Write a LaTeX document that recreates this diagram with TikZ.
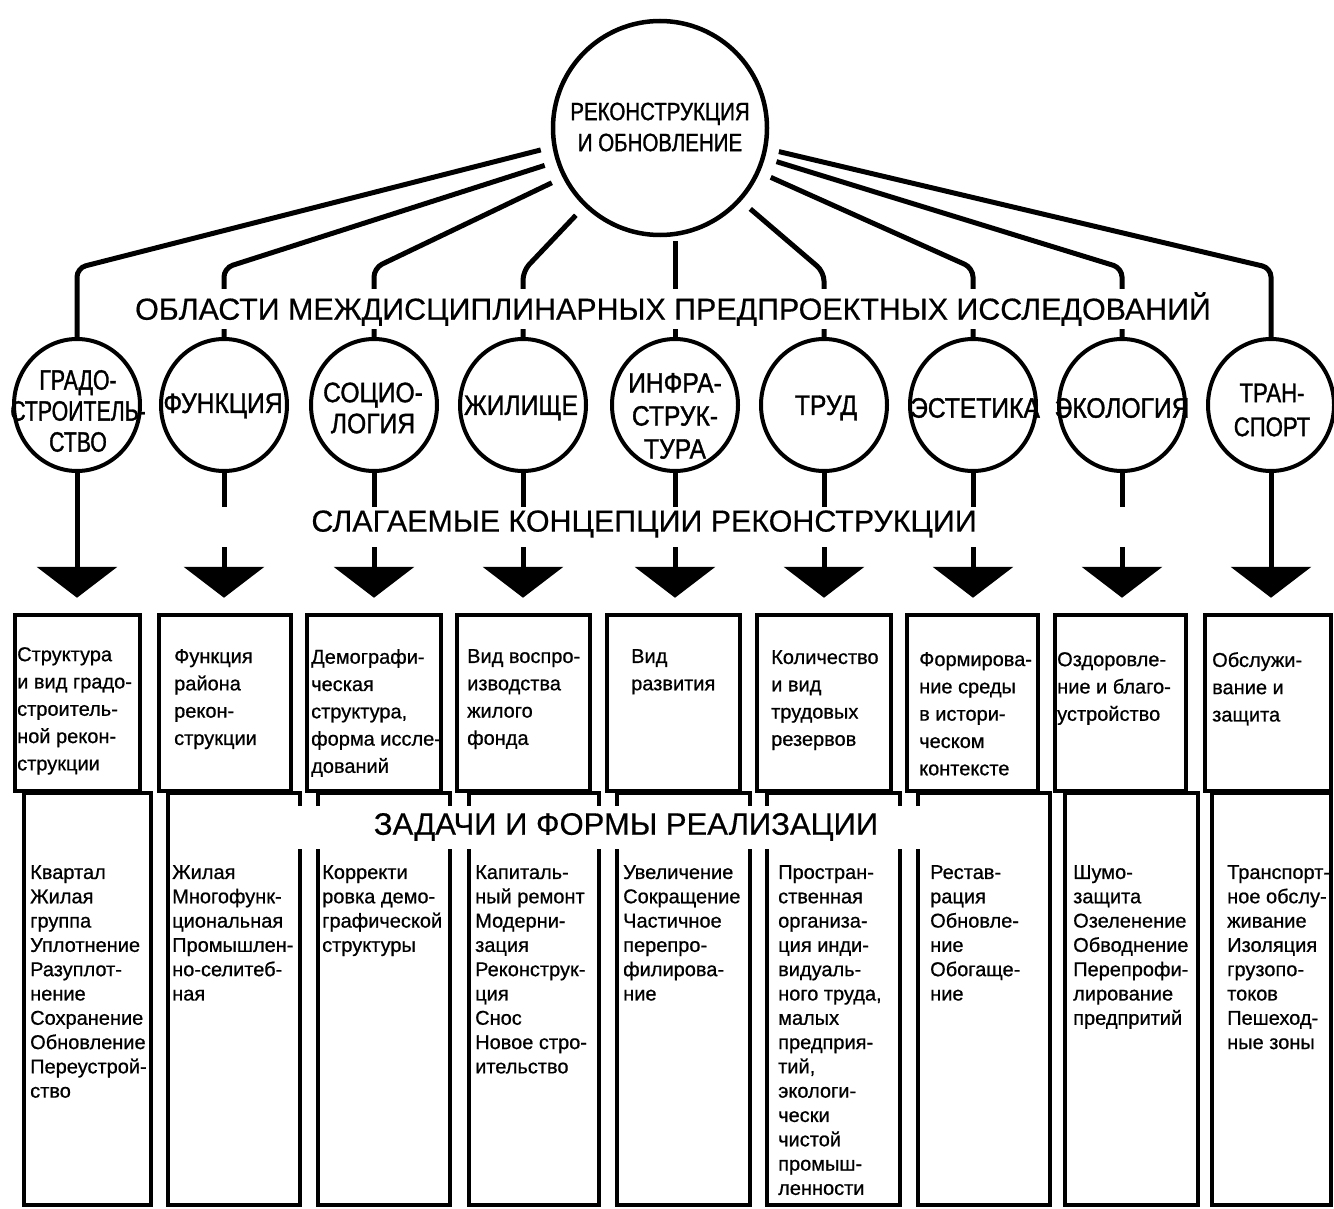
\documentclass[tikz,border=0pt]{standalone}
\usepackage{fontspec}
\setmainfont{Liberation Sans}
\newfontfamily\condf[FakeStretch=0.82,FakeBold=1.2]{Liberation Sans}
\newfontfamily\condm[FakeStretch=0.88,FakeBold=1.2]{Liberation Sans}
\newfontfamily\condn[FakeStretch=0.76,FakeBold=1.2]{Liberation Sans}
\newfontfamily\boxf[FakeBold=0.7]{Liberation Sans}
\newfontfamily\bandf[FakeBold=0.5]{Liberation Sans}
\usetikzlibrary{shapes.geometric,arrows.meta}
\begin{document}
\begin{tikzpicture}[x=1pt,y=-1pt,
  bigc/.style={circle, draw, line width=4.5pt, minimum size=214pt, inner sep=0pt},
  smallc/.style={ellipse, draw, line width=4pt, minimum width=126pt, minimum height=132pt, inner sep=0pt},
  ctext/.style={font=\condm\fontsize{28}{31}\selectfont, align=center, inner sep=0pt},
  bigtext/.style={font=\condf\fontsize{25}{31}\selectfont, align=center, inner sep=0pt},
  spoke/.style={line width=5pt, rounded corners=9pt, shorten <=12pt},
  stem/.style={line width=5pt, -{Triangle[width=80pt,length=31pt]}, shorten >=15pt},
  boxt/.style={draw, line width=4.5pt, minimum height=176pt, inner sep=0pt},
  boxb/.style={draw, line width=4.5pt, minimum height=412pt, inner sep=0pt},
  toptext/.style={anchor=north west, align=left, inner sep=0pt, font=\boxf\fontsize{20}{27.3}\selectfont},
  bottext/.style={anchor=north west, align=left, inner sep=0pt, font=\boxf\fontsize{20}{24.3}\selectfont},
  band/.style={font=\bandf\fontsize{30.4}{36}\selectfont, inner sep=0pt}
]
\fill[white] (0,0) rectangle (1334,1209);
\useasboundingbox (0,0) rectangle (1334,1209);

% central circle
\node[bigc] (top) at (660,128) {};
\node[bigtext] (toptxt) at (660,127) {РЕКОНСТРУКЦИЯ\\И ОБНОВЛЕНИЕ};

% small circles
\node[smallc] (c1) at (77,405) {};
\node[smallc] (c2) at (224,405) {};
\node[smallc] (c3) at (374,405) {};
\node[smallc] (c4) at (523,405) {};
\node[smallc] (c5) at (675,405) {};
\node[smallc] (c6) at (824,405) {};
\node[smallc] (c7) at (973,405) {};
\node[smallc] (c8) at (1122,405) {};
\node[smallc] (c9) at (1271,405) {};

\node[ctext, font=\condn\fontsize{28}{31}\selectfont] (l1) at (78,411) {ГРАДО-\\СТРОИТЕЛЬ-\\СТВО};
\node[ctext] (l2) at (223,406) {ФУНКЦИЯ};
\node[ctext] (l3) at (373,408) {СОЦИО-\\ЛОГИЯ};
\node[ctext] (l4) at (521,408) {ЖИЛИЩЕ};
\node[ctext, font=\condm\fontsize{28}{33}\selectfont] (l5) at (675,416) {ИНФРА-\\СТРУК-\\ТУРА};
\node[ctext] (l6) at (826,408) {ТРУД};
\node[ctext] (l7) at (975,408) {ЭСТЕТИКА};
\node[ctext] (l8) at (1122,408) {ЭКОЛОГИЯ};
\node[ctext, font=\condf\fontsize{27}{34}\selectfont] (l9) at (1272,410) {ТРАН-\\СПОРТ};

% spokes
\draw[spoke] (top.190) -- (c1.north |- 0,268) -- (c1.north);
\draw[spoke] (top.198) -- (c2.north |- 0,268) -- (c2.north);
\draw[spoke] (top.207) -- (c3.north |- 0,268) -- (c3.north);
\draw[spoke] (top.226) -- (c4.north |- 0,271) -- (c4.north);
\draw[line width=5pt, shorten <=4pt] (c5.north |- top.south) -- (c5.north);
\draw[spoke] (top.318) -- (c6.north |- 0,272) -- (c6.north);
\draw[spoke] (top.336) -- (c7.north |- 0,268) -- (c7.north);
\draw[spoke] (top.344) -- (c8.north |- 0,268) -- (c8.north);
\draw[spoke] (top.349) -- (c9.north |- 0,268) -- (c9.north);

% top boxes
\node[boxt, minimum width=125pt] (t1) at (77.5,703) {};
\node[boxt, minimum width=132pt] (t2) at (225,703) {};
\node[boxt, minimum width=134pt] (t3) at (374,703) {};
\node[boxt, minimum width=133pt] (t4) at (523.5,703) {};
\node[boxt, minimum width=133pt] (t5) at (673.5,703) {};
\node[boxt, minimum width=134pt] (t6) at (824,703) {};
\node[boxt, minimum width=131pt] (t7) at (972.5,703) {};
\node[boxt, minimum width=131pt] (t8) at (1120.5,703) {};
\node[boxt, minimum width=126pt] (t9) at (1268,703) {};

% stems with arrowheads
\draw[stem] (c1.south) -- (c1.south |- t1.north);
\draw[stem] (c2.south) -- (c2.south |- t2.north);
\draw[stem] (c3.south) -- (c3.south |- t3.north);
\draw[stem] (c4.south) -- (c4.south |- t4.north);
\draw[stem] (c5.south) -- (c5.south |- t5.north);
\draw[stem] (c6.south) -- (c6.south |- t6.north);
\draw[stem] (c7.south) -- (c7.south |- t7.north);
\draw[stem] (c8.south) -- (c8.south |- t8.north);
\draw[stem] (c9.south) -- (c9.south |- t9.north);

% bottom boxes
\node[boxb, minimum width=127pt] (b1) at (87.5,999) {};
\node[boxb, minimum width=132pt] (b2) at (234,999) {};
\node[boxb, minimum width=132pt] (b3) at (384,999) {};
\node[boxb, minimum width=130pt] (b4) at (534,999) {};
\node[boxb, minimum width=133pt] (b5) at (683.5,999) {};
\node[boxb, minimum width=133pt] (b6) at (833.5,999) {};
\node[boxb, minimum width=132pt] (b7) at (984,999) {};
\node[boxb, minimum width=133pt] (b8) at (1131.5,999) {};
\node[boxb, minimum width=119pt] (b9) at (1271.5,999) {};

% top box texts
\node[toptext] (tt1) at (17,647) {Структура\\и вид градо-\\строитель-\\ной рекон-\\струкции};
\node[toptext] (tt2) at (174,649) {Функция\\района\\рекон-\\струкции};
\node[toptext] (tt3) at (311,649) {Демографи-\\ческая\\структура,\\форма иссле-\\дований};
\node[toptext] (tt4) at (467,649) {Вид воспро-\\изводства\\жилого\\фонда};
\node[toptext] (tt5) at (631,649) {Вид\\развития};
\node[toptext] (tt6) at (771,650) {Количество\\и вид\\трудовых\\резервов};
\node[toptext] (tt7) at (919,652) {Формирова-\\ние среды\\в истори-\\ческом\\контексте};
\node[toptext] (tt8) at (1057,652) {Оздоровле-\\ние и благо-\\устройство};
\node[toptext] (tt9) at (1212,652) {Обслужи-\\вание и\\защита};

% bottom box texts
\node[bottext] (bt1) at (30,865) {Квартал\\Жилая\\группа\\Уплотнение\\Разуплот-\\нение\\Сохранение\\Обновление\\Переустрой-\\ство};
\node[bottext] (bt2) at (172,865) {Жилая\\Многофунк-\\циональная\\Промышлен-\\но-селитеб-\\ная};
\node[bottext] (bt3) at (322,865) {Корректи\\ровка демо-\\графической\\структуры};
\node[bottext] (bt4) at (475,865) {Капиталь-\\ный ремонт\\Модерни-\\зация\\Реконструк-\\ция\\Снос\\Новое стро-\\ительство};
\node[bottext] (bt5) at (623,865) {Увеличение\\Сокращение\\Частичное\\перепро-\\филирова-\\ние};
\node[bottext] (bt6) at (778,865) {Простран-\\ственная\\организа-\\ция инди-\\видуаль-\\ного труда,\\малых\\предприя-\\тий,\\экологи-\\чески\\чистой\\промыш-\\ленности};
\node[bottext] (bt7) at (930,865) {Рестав-\\рация\\Обновле-\\ние\\Обогаще-\\ние};
\node[bottext] (bt8) at (1073,865) {Шумо-\\защита\\Озеленение\\Обводнение\\Перепрофи-\\лирование\\предпритий};
\node[bottext] (bt9) at (1227,865) {Транспорт-\\ное обслу-\\живание\\Изоляция\\грузопо-\\токов\\Пешеход-\\ные зоны};

% band labels
\node[band, fill=white, minimum height=40pt] (h1) at (673,309) {ОБЛАСТИ МЕЖДИСЦИПЛИНАРНЫХ ПРЕДПРОЕКТНЫХ ИССЛЕДОВАНИЙ};
\fill[white] (205,507) rectangle (1140,547);
\node[band] (h2) at (644,524) {СЛАГАЕМЫЕ КОНЦЕПЦИИ РЕКОНСТРУКЦИИ};
\fill[white] (292,806) rectangle (926,849);
\node[band, font=\bandf\fontsize{31}{36}\selectfont] (h3) at (626,827) {ЗАДАЧИ И ФОРМЫ РЕАЛИЗАЦИИ};
\end{tikzpicture}
\end{document}
